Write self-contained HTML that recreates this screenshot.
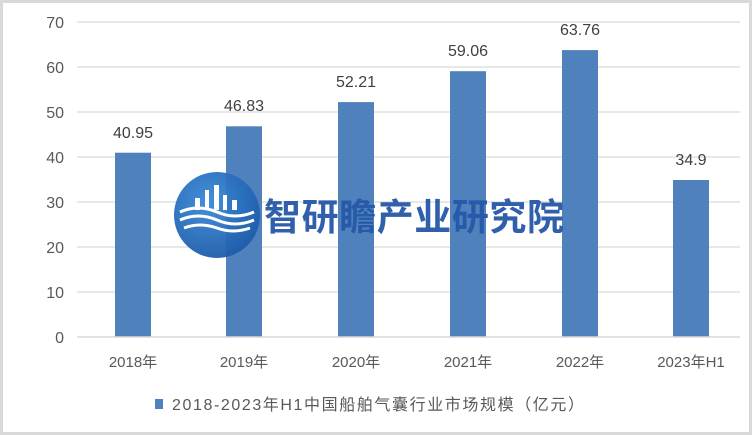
<!DOCTYPE html>
<html><head><meta charset="utf-8"><style>
body{margin:0;background:#fff}
</style></head><body>
<svg width="752" height="435" xmlns="http://www.w3.org/2000/svg" style="display:block;font-family:'Liberation Sans','Noto Sans CJK SC',sans-serif">
<rect x="1.5" y="1.5" width="749" height="432" fill="#fff" stroke="#d9d9d9" stroke-width="3"/>
<g stroke="#d9d9d9" stroke-width="1.3">
<line x1="77" x2="740" y1="22" y2="22"/><line x1="77" x2="740" y1="67" y2="67"/>
<line x1="77" x2="740" y1="112" y2="112"/><line x1="77" x2="740" y1="157" y2="157"/>
<line x1="77" x2="740" y1="202" y2="202"/><line x1="77" x2="740" y1="247" y2="247"/>
<line x1="77" x2="740" y1="292" y2="292"/>
</g>
<g fill="#595959" font-size="16" text-anchor="end">
<text x="64" y="28">70</text><text x="64" y="73">60</text><text x="64" y="118">50</text>
<text x="64" y="163">40</text><text x="64" y="208">30</text><text x="64" y="253">20</text>
<text x="64" y="298">10</text><text x="64" y="343">0</text>
</g>
<g fill="#4f81bd">
<rect x="115" y="152.7" width="36" height="184.3"/>
<rect x="226" y="126.3" width="36" height="210.7"/>
<rect x="338" y="102.1" width="36" height="234.9"/>
<rect x="450" y="71.2" width="36" height="265.8"/>
<rect x="562" y="50.1" width="36" height="286.9"/>
<rect x="673" y="180" width="36" height="157"/>
</g>
<line x1="77" x2="740" y1="337" y2="337" stroke="#d9d9d9" stroke-width="1.5"/>
<g fill="#404040" font-size="16" text-anchor="middle">
<text x="133" y="138">40.95</text><text x="244" y="111">46.83</text><text x="356" y="87">52.21</text>
<text x="468" y="56">59.06</text><text x="580" y="35">63.76</text><text x="691" y="165">34.9</text>
</g>
<g fill="#595959" font-size="15" text-anchor="middle">
<text x="133" y="367">2018年</text><text x="244" y="367">2019年</text><text x="356" y="367">2020年</text>
<text x="468" y="367">2021年</text><text x="580" y="367">2022年</text><text x="691" y="367">2023年H1</text>
</g>
<rect x="155" y="399" width="8" height="10" fill="#4f81bd"/>
<text x="172" y="410" fill="#595959" font-size="16" textLength="412">2018-2023年H1中国船舶气囊行业市场规模（亿元）</text>
<defs><radialGradient id="g" cx="40%" cy="35%" r="70%"><stop offset="0" stop-color="#3a8ad8"/><stop offset="1" stop-color="#1d5aa8"/></radialGradient></defs>
<circle cx="217" cy="215" r="43" fill="url(#g)" opacity="0.95"/>
<g stroke="#fff" stroke-width="3" fill="none">
<path d="M180 212 q18 -8 37 0 q18 8 37 0"/>
<path d="M180 220 q18 -8 37 0 q18 8 37 0"/>
<path d="M184 228 q16 -6 33 0 q16 6 33 0"/>
</g>
<g fill="#fff"><rect x="195" y="198" width="5" height="12"/><rect x="205" y="190" width="4" height="20"/><rect x="214" y="185" width="5" height="25"/><rect x="223" y="195" width="4" height="15"/><rect x="232" y="200" width="5" height="10"/></g>
<text x="264" y="230" fill="#2558a8" font-size="37" font-weight="bold" textLength="300" opacity="0.95">智研瞻产业研究院</text>
</svg>
</body></html>
